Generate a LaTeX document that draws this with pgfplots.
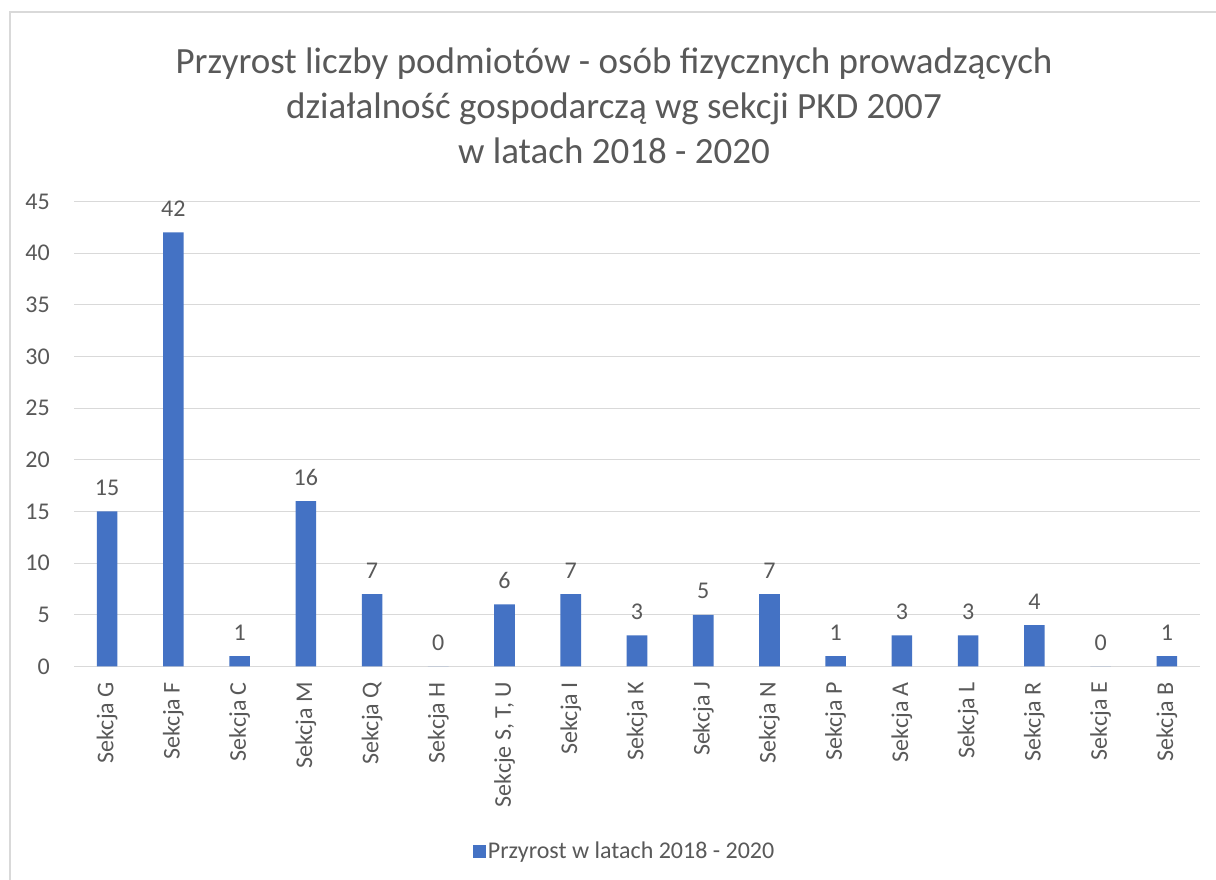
\documentclass[border=0pt]{standalone}
\usepackage{pgfplots}
\pgfplotsset{compat=1.18}
\usepackage{fontspec}
\setmainfont{Carlito}
\definecolor{txt}{HTML}{595959}
\definecolor{grd}{HTML}{D9D9D9}
\definecolor{bar}{HTML}{4472C4}
\begin{document}
\begin{tikzpicture}[x=1pt,y=1pt]
\useasboundingbox (0,0) rectangle (1216,880);
\fill[white] (0,0) rectangle (1216,880);
\draw[grd, line width=1.5pt] (10,0) -- (10,868) -- (1216,868);
\node[text=txt, align=center, font=\fontsize{37}{45}\selectfont] at (614,774)
  {Przyrost liczby podmiotów - osób fizycznych prowadzących\\działalność gospodarczą wg sekcji PKD 2007\\w latach 2018 - 2020};
\begin{axis}[
  at={(74pt,213.5pt)}, anchor=south west,
  scale only axis, width=1126pt, height=465pt,
  xmin=-0.5, xmax=16.5, ymin=0, ymax=45,
  ytick={0,5,...,45},
  xtick={0,...,16},
  xticklabels={Sekcja G,Sekcja F,Sekcja C,Sekcja M,Sekcja Q,Sekcja H,{Sekcje S, T, U},Sekcja I,Sekcja K,Sekcja J,Sekcja N,Sekcja P,Sekcja A,Sekcja L,Sekcja R,Sekcja E,Sekcja B},
  axis line style={draw=none},
  major tick length=0pt,
  ymajorgrids, grid style={grd, line width=1.3pt},
  /pgf/number format/assume math mode=true,
  ticklabel style={text=txt, font=\fontsize{24}{28}\selectfont},
  xticklabel style={rotate=90, anchor=east, inner xsep=15.5pt, inner ysep=0pt},
  yticklabel style={anchor=east, inner sep=0pt, xshift=-24pt},
  legend style={draw=none, at={(0.489,-0.397)}, anchor=center, text=txt, font=\fontsize{24}{28}\selectfont, inner sep=0pt,
    /tikz/every even column/.append style={column sep=0pt}},
  legend image code/.code={\fill[bar] (-8pt,-6.5pt) rectangle (5pt,6.5pt);},
  nodes near coords,
  every node near coord/.style={anchor=base, yshift=16pt, inner sep=0pt, text=txt, font=\fontsize{24}{28}\selectfont},
]
\addplot[ybar, bar width=20.6pt, fill=bar, draw=none] coordinates {
(0,15) (1,42) (2,1) (3,16) (4,7) (5,0) (6,6) (7,7) (8,3) (9,5) (10,7) (11,1) (12,3) (13,3) (14,4) (15,0) (16,1)};
\addlegendentry{Przyrost w latach 2018 - 2020}
\end{axis}
\end{tikzpicture}
\end{document}
